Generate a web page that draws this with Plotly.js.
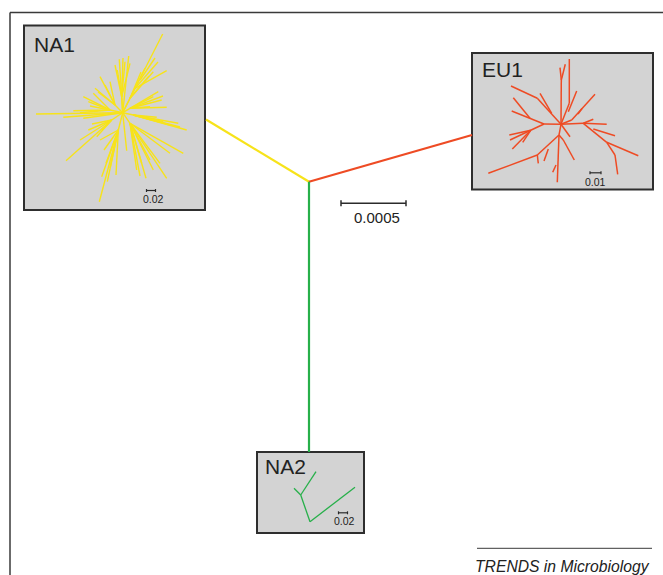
<!DOCTYPE html>
<html><head><meta charset="utf-8">
<script src="https://cdn.plot.ly/plotly-3.0.1.min.js"></script>
<style>html,body{margin:0;padding:0;background:#fff;}#chart{width:663px;height:575px;}</style>
</head><body><div id="chart"></div>
<script>
// ---- data (tree layout coordinates) ----
const cladeNames = ['NA1', 'EU1', 'NA2'];
const insetScaleLabels = ['0.02', '0.01', '0.02'];
const mainScaleLabel = '0.0005';
const creditText = 'TRENDS in Microbiology';

// main tree: root and the three clade attachment points
const mainRoot = [309, 181.7];
const mainTips = [[206, 119.5], [472, 135], [309, 452]];

// NA1 star-like tree edges [x1,y1,x2,y2]
const na1Edges = [
  [122.7,112.7,135,88.3],[135,88.3,162.7,34],[135,88.3,166.7,70.7],[135,88.3,158,62],[140,80,155,58],
  [122.7,112.7,130,98.3],[130,98.3,153.3,71.7],[130,98.3,145,68.3],[130,98.3,149,76],[130,98.3,141,72],
  [122.7,112.7,119.3,59.3],[122.7,112.7,128.7,56],[122.7,112.7,121.7,96.7],
  [121.7,96.7,130,63.3],[121.7,96.7,125,61.7],[121.7,96.7,117.3,70],[121.7,96.7,115,65],[121.7,96.7,123,58],
  [122.7,112.7,115,105],[115,105,100,76.7],[115,105,110,81.7],[115,105,95,88.3],[115,105,105,85],[115,105,98,92],
  [122.7,112.7,110,110],[110,110,83.3,96.7],[110,110,88.3,101.7],[110,110,93.3,93.3],[110,110,90,106],
  [122.7,112.7,36,114],[110,110,73.3,110.7],[110,110,80,112.7],[122.7,112.7,63.3,117.3],[122.7,112.7,83.3,118.3],
  [122.7,112.7,111.7,120],[111.7,120,66,160.7],[111.7,120,80,140],[111.7,120,88.3,130],
  [111.7,120,96.7,136.7],[111.7,120,101.7,130],[111.7,120,92,124],
  [122.7,112.7,118.3,130],[118.3,130,99.3,201.7],[118.3,130,101.7,176.7],[118.3,130,107.3,181.7],
  [118.3,130,116,175],[118.3,130,106,163.3],[118.3,130,100,140],[118.3,130,104,150],[118.3,130,110,168],
  [122.7,112.7,126.7,150.7],
  [122.7,112.7,130,123.3],[130,123.3,136.7,170],[130,123.3,146,178.3],[130,123.3,166.7,178.3],
  [130,123.3,160,163.3],[130,123.3,141.7,163.3],[130,123.3,153.3,170],[130,123.3,183.3,153.3],
  [130,123.3,170,153.3],[130,123.3,150,160],[130,123.3,140,176],
  [122.7,112.7,133.3,115],[133.3,115,186.7,130],[133.3,115,178.3,123.3],[133.3,115,170,125],
  [133.3,115,163.3,121.7],[133.3,115,156.7,117.3],[133.3,115,180,127],
  [122.7,112.7,130,108.3],[130,108.3,158.3,91.7],[130,108.3,161.7,100],[130,108.3,150,106.7],
  [130,108.3,166.7,107.3],[130,108.3,153.3,96.7],[130,108.3,163,96]
];

// EU1 tree edges
const eu1Edges = [
  [561,124.3,537.3,98.3],[537.3,98.3,511,86],[551.7,113.3,540,93.3],
  [561,124.3,561.3,80],[561.3,80,560,67.7],[561.3,80,565.3,64.3],
  [561,124.3,569.3,103.3],[569.3,103.3,569.3,59],[568.3,111.7,576.7,91],
  [561,124.3,571.7,120],[571.7,120,595,94.3],[582,108.5,578,114],
  [561,124.3,583.3,123.3],[583.3,123.3,606.7,124.3],[583.3,123.3,593.3,119.3],
  [583.3,123.3,606.7,142.3],[606.7,142.3,638.3,155.7],[606.7,142.3,615,155],
  [615,155,617.7,174.3],[593.3,129,615,135.7],
  [561,124.3,544,124],[544,124,511.7,111],[513.3,97.7,530,118.3],
  [544,124,530.7,130.3],[530.7,130.3,509.3,135],[530.7,130.3,510,140],
  [530.7,130.3,512.3,149],[530.7,130.3,522.7,142.3],
  [561,124.3,559,135],[559,135,537.3,155],[537.3,155,488.3,173.3],[537.3,155,538.3,163.3],
  [548.3,149,544,161],[559,135,557.3,182.3],[556,165,552.7,172.3],
  [559,135,563.3,140],[563.3,140,574.3,160],[561,124.3,570,136.7]
];

// NA2 tree edges
const na2Edges = [
  [300.7,495,316,471.7],[300.7,495,294,488.3],[300.7,495,310,521.7],[310,521.7,355,487.3]
];

// ---- layout helpers ----
function toXY(edges) {
  const x = [], y = [];
  edges.forEach(e => { x.push(e[0], e[2], null); y.push(e[1], e[3], null); });
  return {x, y};
}
const colors = {NA1: '#f7e31a', EU1: '#ee4b24', NA2: '#27b04a'};

const traces = [];
cladeNames.forEach((n, i) => {
  const t = mainTips[i];
  traces.push({x: [mainRoot[0], t[0]], y: [mainRoot[1], t[1]], mode: 'lines',
    line: {color: colors[n], width: 2.2}, hoverinfo: 'skip', showlegend: false});
});
[[na1Edges, 'NA1', 1.4], [eu1Edges, 'EU1', 1.5], [na2Edges, 'NA2', 1.3]].forEach(([e, n, w]) => {
  const p = toXY(e);
  traces.push({x: p.x, y: p.y, mode: 'lines', line: {color: colors[n], width: w},
    hoverinfo: 'skip', showlegend: false});
});

const boxes = [[24, 25.5, 205, 210], [472, 53, 653, 189.5], [257, 452, 364, 533]];
const shapes = [];
boxes.forEach(b => shapes.push({type: 'rect', xref: 'x', yref: 'y', x0: b[0], y0: b[1], x1: b[2], y1: b[3],
  fillcolor: '#d3d3d3', line: {color: '#2e2e2e', width: 2}, layer: 'below'}));
shapes.push({type: 'line', xref: 'x', yref: 'y', x0: 10, y0: 12.5, x1: 670, y1: 12.5, line: {color: '#3a3a3a', width: 1.5}});
shapes.push({type: 'line', xref: 'x', yref: 'y', x0: 10, y0: 12.5, x1: 10, y1: 580, line: {color: '#3a3a3a', width: 1.5}});
function scaleBar(x0, x1, y, cap, w) {
  shapes.push({type: 'line', xref: 'x', yref: 'y', x0: x0, y0: y, x1: x1, y1: y, line: {color: '#2b2b2b', width: w}});
  shapes.push({type: 'line', xref: 'x', yref: 'y', x0: x0, y0: y - cap, x1: x0, y1: y + cap, line: {color: '#2b2b2b', width: w}});
  shapes.push({type: 'line', xref: 'x', yref: 'y', x0: x1, y0: y - cap, x1: x1, y1: y + cap, line: {color: '#2b2b2b', width: w}});
}
scaleBar(341, 406, 203.3, 3, 1.5);
const insetBars = [[146.5, 155.5, 190.5, 153.5, 199], [590, 601, 172.8, 595.5, 181.5], [338.5, 347.5, 512.8, 344.5, 521]];
insetBars.forEach(b => scaleBar(b[0], b[1], b[2], 1.5, 1.2));
shapes.push({type: 'line', xref: 'x', yref: 'y', x0: 477, y0: 548.3, x1: 652, y1: 548.3, line: {color: '#3a3a3a', width: 1}});

const font = 'Liberation Sans, Arial, Helvetica, sans-serif';
const annotations = [];
const labelPos = [[32, 44.5], [480, 69.5], [263, 466.5]];
cladeNames.forEach((n, i) => annotations.push({x: labelPos[i][0], y: labelPos[i][1], xref: 'x', yref: 'y',
  text: n, showarrow: false, xanchor: 'left', yanchor: 'middle', font: {family: font, size: 21, color: '#222'}}));
insetBars.forEach((b, i) => annotations.push({x: b[3], y: b[4], xref: 'x', yref: 'y', text: insetScaleLabels[i],
  showarrow: false, xanchor: 'center', yanchor: 'middle', font: {family: font, size: 10.5, color: '#222'}}));
annotations.push({x: 377, y: 217, xref: 'x', yref: 'y', text: mainScaleLabel, showarrow: false,
  xanchor: 'center', yanchor: 'middle', font: {family: font, size: 15, color: '#222'}});
annotations.push({x: 652, y: 566.5, xref: 'x', yref: 'y', text: '<i>' + creditText + '</i>', showarrow: false,
  xanchor: 'right', yanchor: 'middle', font: {family: font, size: 15.7, color: '#222'}});

const layout = {
  width: 663, height: 575, margin: {l: 0, r: 0, t: 0, b: 0},
  paper_bgcolor: '#fff', plot_bgcolor: '#fff',
  xaxis: {range: [0, 663], visible: false, fixedrange: true},
  yaxis: {range: [575, 0], visible: false, fixedrange: true},
  shapes: shapes, annotations: annotations, showlegend: false
};
Plotly.newPlot('chart', traces, layout, {displayModeBar: false, staticPlot: true});
</script>
</body></html>
